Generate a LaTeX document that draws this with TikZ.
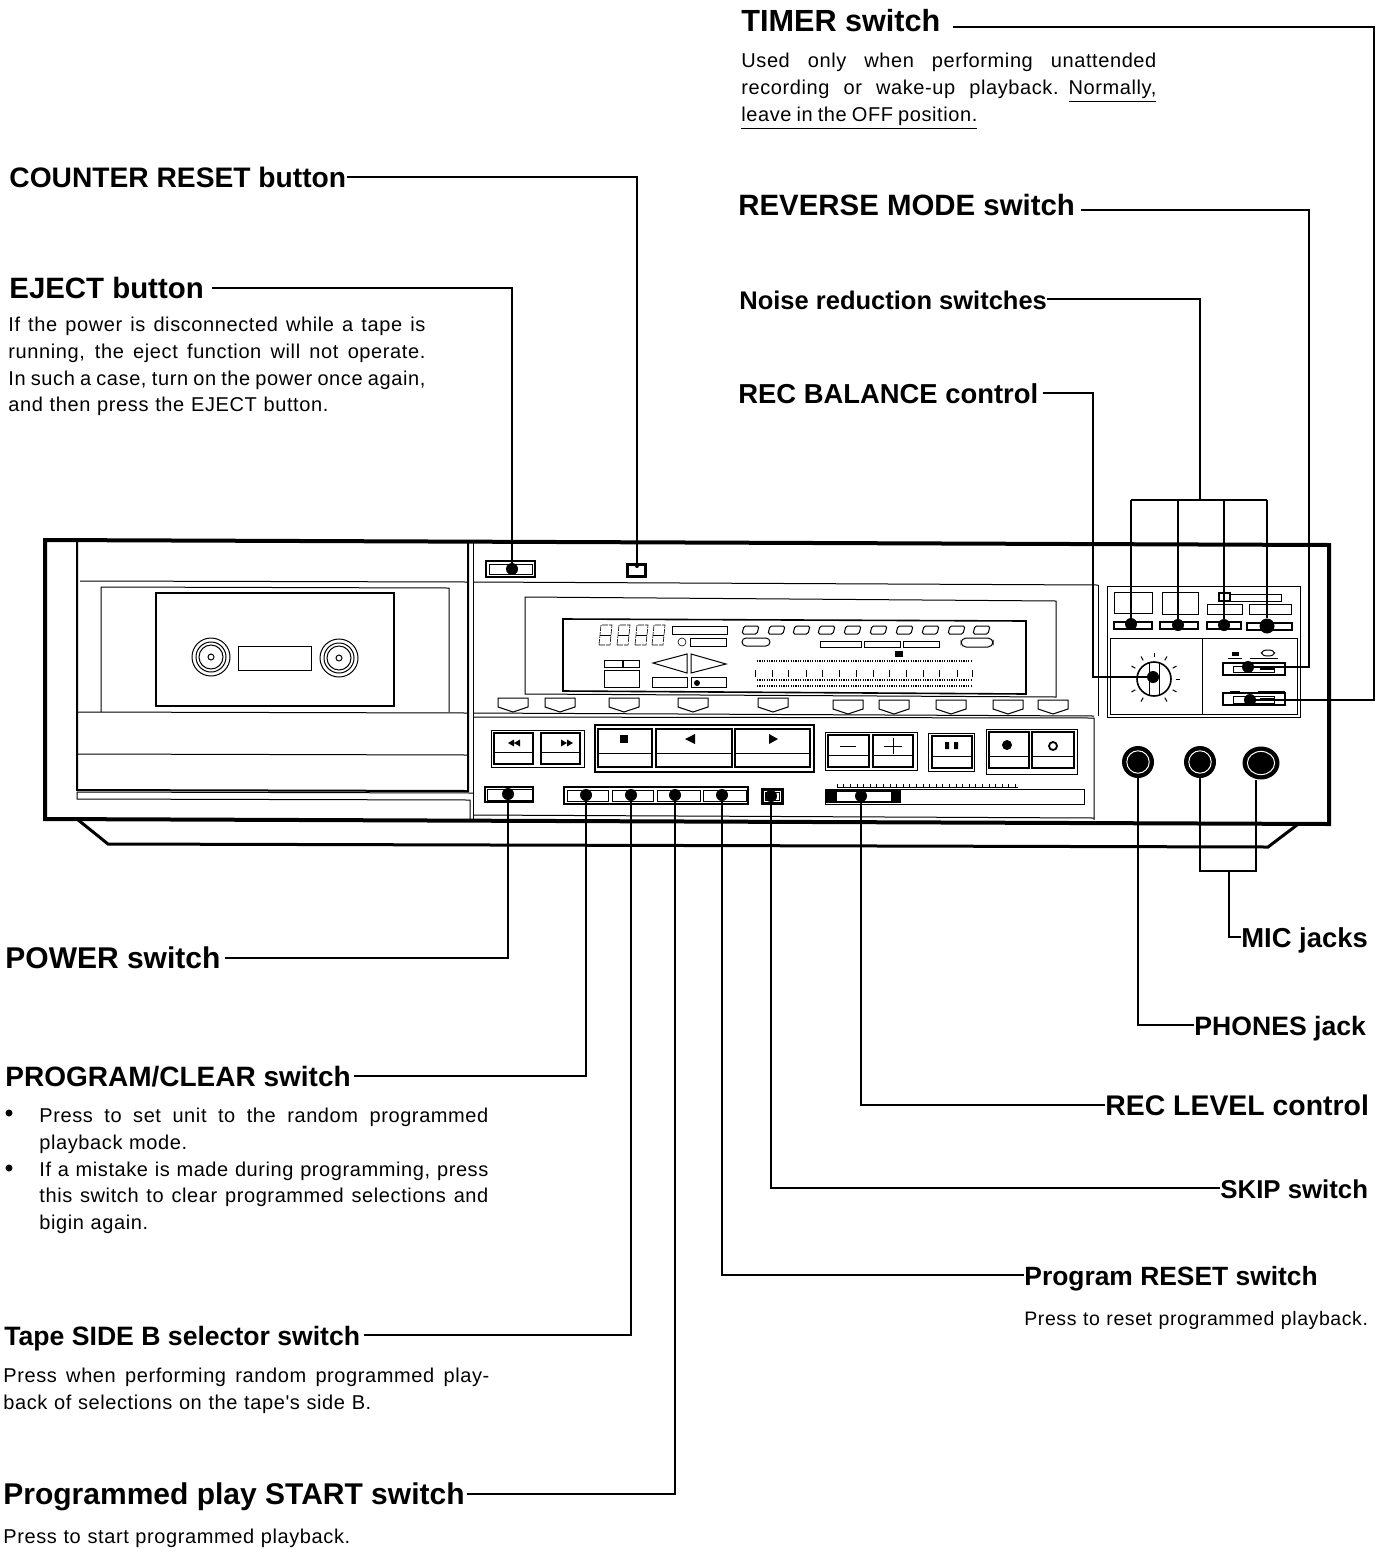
\documentclass[tikz,border=0pt]{standalone}
\usepackage{fontspec}
\setmainfont{Liberation Sans}
\newfontfamily\bodyfont[LetterSpace=3]{Liberation Sans}
\usetikzlibrary{shapes.geometric,calc}
\newcommand{\fillline}[2]{\hbox to #1pt{\spaceskip=\fontdimen2\font plus 1fil minus 1fil\relax #2}}

\begin{document}
\begin{tikzpicture}[
	x=0.5pt, y=-0.5pt,
	frame/.style={line width=2pt},
	door/.style={line width=1pt},
	fine/.style={line width=0.5pt},
	hair/.style={line width=0.3pt},
	btn/.style={line width=0.8pt},
	lead/.style={line width=0.8pt},
	dot/.style={circle, fill=black, inner sep=0pt, minimum size=6pt},
	bullet/.style={circle, fill=black, inner sep=0pt, minimum size=3.5pt},
	jack/.style={circle, fill=black, inner sep=0pt, minimum size=16pt},
	head/.style={anchor=west, inner sep=0pt, text height=10pt, text depth=0pt, font=\fontsize{#1}{#1}\selectfont\bfseries},
	para/.style={anchor=north west, inner sep=0pt, text width=250pt, font=\fontsize{#1}{13.3}\selectfont\bodyfont},
	para/.default=10
]
\useasboundingbox (0,0) rectangle (1386,1553);

% --- Cabinet ---
\draw[frame] (45,540) -- (1329,545) -- (1329,824) -- (45,819) -- cycle;
\draw[line width=1.5pt] (77,819) -- (108,844) -- (1268,847) -- (1297,825);

% --- Cassette door ---
\draw[door] (77,540) -- (77,790) -- (468,791) -- (468,541);
\draw[fine] (80,581) -- (468,582);
\draw[fine] (78,712) -- (468,713);
\draw[fine] (78,754) -- (468,755);
\draw[fine] (101,712) -- (101,587) -- (449,588) -- (449,712);
\draw[btn] (156,593) rectangle (394,706);
\draw[fine] (238,646) rectangle (311,670);
\foreach \x/\y in {211/657,339/658} {
  \foreach \r in {9.5,7.5,6,1.5}
    \draw[fine] (\x,\y) circle (\r pt);
}
\draw[fine] (77,792) -- (77,799) -- (470,800) -- (470,820);
\draw[fine] (77,792) -- (473,793);

% --- Centre panel ---
\draw[fine] (473,540) -- (473,821);
\draw[fine] (473,582) -- (1098,585);
\draw[fine] (473,713) -- (1094,716);
\draw[fine] (473,717) -- (1094,718) -- (1094,820);
\draw[fine] (473,815) -- (1094,818);
\draw[fine] (1098,585) -- (1098,716);
\draw[fine] (525,694) -- (525,597) -- (1056,601) -- (1056,697) -- cycle;
\draw[btn] (563,691) -- (563,619) -- (1026,621) -- (1026,694) -- cycle;

% --- Display ---
\foreach \x in {599,617,635,652} {
  \draw[hair, dash pattern=on 3pt off .5pt] (\x,645) -- ++(2,-20) -- ++(11,0) -- ++(-2,20) -- cycle;
  \draw[hair] (\x+1,635) -- ++(11,0);
}
\foreach \x in {742,768,793,818,844,870,896,922,948,973}
  \draw[fine, rounded corners=.8pt] (\x,634) -- ++(2,-8) -- ++(15,0) -- ++(-2,8) -- cycle;
\draw[fine] (672,626) rectangle (727,634);
\draw[fine] (690,638) rectangle (726,646);
\draw[hair] (682,642) circle (2pt);
\draw[fine, rounded corners=2pt] (742,638) rectangle (770,646);
\draw[fine] (820,641) rectangle (861,647);
\draw[fine] (864,641) rectangle (900,647);
\draw[fine] (903,641) rectangle (939,647);
\draw[fine, rounded corners=2.5pt] (961,638) rectangle (993,647);
\fill (895,651) rectangle (903,657);
\foreach \y in {661,680,686}
  \draw[line width=.6pt, dash pattern=on .6pt off .6pt] (757,\y) -- (971,\y);
\foreach \x in {755,772,788,806,822,839,856,873,889,906,923,939,957,972}
  \draw[hair] (\x,670) -- (\x,677);
\draw[fine] (604,660) rectangle (622,667);
\draw[fine] (623,660) rectangle (639,667);
\draw[fine] (604,670) rectangle (639,687);
\draw[fine] (687,654) -- (687,673) -- (653,663) -- cycle;
\draw[fine] (691,654) -- (691,673) -- (726,664) -- cycle;
\draw[fine] (652,677) rectangle (687,687);
\draw[fine] (691,677) rectangle (726,687);
\fill (697,683) circle (1.5pt);

% --- Tabs below the display ---
\foreach \x/\y in {513/698,560/698,624/698,693/698,773/698,848/700,894/700,951/700,1008/700,1053/700}
  \draw[fine] (\x-15,\y) -- (\x-15,\y+9) -- (\x,\y+14) -- (\x+15,\y+9) -- (\x+15,\y) -- cycle;

% --- Transport keys ---
\draw[fine] (491,730) rectangle (584,767);
\draw[btn] (494,733) rectangle (533,764);
\draw[btn] (541,733) rectangle (580,764);
\draw[fine] (494,752) -- (533,752);
\draw[fine] (541,752) -- (580,752);
\fill (508,743) -- (514,739.5) -- (514,746.5) -- cycle (514,743) -- (520,739.5) -- (520,746.5) -- cycle;
\fill (567,743) -- (561,739.5) -- (561,746.5) -- cycle (573,743) -- (567,739.5) -- (567,746.5) -- cycle;
\draw[btn] (595,725) rectangle (814,772);
\draw[btn] (598,729) rectangle (652,767);
\draw[btn] (656,729) rectangle (732,767);
\draw[btn] (735,729) rectangle (810,767);
\draw[fine] (598,753) -- (652,753);
\draw[fine] (656,753) -- (732,753);
\draw[fine] (735,753) -- (810,753);
\fill (620,735) rectangle (628,743);
\fill (685,739) -- (695,734) -- (695,744) -- cycle;
\fill (778,739) -- (769,734) -- (769,744) -- cycle;
\draw[fine] (825,732) rectangle (917,770);
\draw[btn] (828,735) rectangle (869,767);
\draw[btn] (873,735) rectangle (913,767);
\draw[fine] (828,755) -- (869,755);
\draw[fine] (873,755) -- (913,755);
\draw[fine] (840,746) -- (856,746);
\draw[fine] (884,746) -- (902,746) (893,738) -- (893,754);
\draw[fine] (928,733) rectangle (974,771);
\draw[btn] (932,736) rectangle (972,768);
\draw[fine] (932,756) -- (972,756);
\fill (945,742) rectangle (949,749) (954,742) rectangle (958,749);
\draw[fine] (986,729) rectangle (1077,774);
\draw[btn] (989,732) rectangle (1029,768);
\draw[btn] (1032,732) rectangle (1074,768);
\draw[fine] (989,756) -- (1029,756);
\draw[fine] (1032,756) -- (1074,756);
\fill (1007,745) circle (2.5pt);
\draw[line width=.9pt] (1053,746) circle (2pt);

% --- Small switches ---
\draw[btn] (486,561) rectangle (535,577);
\draw[fine] (489,564) rectangle (532,574);
\draw[line width=1.5pt] (627.5,564.5) rectangle (645.5,576.5);
\draw[btn] (485,787) rectangle (533,802);
\draw[fine] (487,789) rectangle (532,800);
\draw[btn] (564,787) rectangle (748,804);
\foreach \x/\w in {567/608,612/653,657/700,703/746}
  \draw[fine] (\x,790) rectangle (\w,801);
\draw[line width=1.5pt] (762,789) rectangle (782,803);
\draw[fine] (765,792) rectangle (779,800);

% --- Level slider ---
\draw[fine] (825,789) rectangle (1084,804);
\fill (825,789) rectangle (901,803);
\fill[white] (837,792) rectangle (891,801);
\foreach \x in {837,843.6,...,1018}
  \draw[hair] (\x,784) -- (\x,788);
\draw[hair] (837,787.5) -- (1018,787.5);

% --- Noise reduction block ---
\draw[fine] (1107,586) rectangle (1300,717);
\draw[fine] (1114,592) rectangle (1152,613);
\draw[fine] (1162,592) rectangle (1198,614);
\draw[fine] (1207,604) rectangle (1242,614);
\draw[fine] (1249,604) rectangle (1291,614);
\draw[btn] (1219,593) rectangle (1230,601);
\draw[fine] (1230,594) rectangle (1281,601);
\draw[btn] (1114,622) rectangle (1152,629);
\draw[btn] (1160,622) rectangle (1198,629);
\draw[btn] (1207,622) rectangle (1241,629);
\draw[btn] (1247,623) rectangle (1292,630);
\draw[fine] (1110,638) rectangle (1297,714);
\draw[fine] (1202,638) -- (1202,714);

% --- Balance dial ---
\draw[btn] (1154,679) circle (8.5pt);
\draw[fine] (1149,662) -- (1149,696) (1159,662) -- (1159,696);
\foreach \a in {90,60,30,0,-30,-60,-120,-150,150,120}
  \draw[fine] (1154,679) ++(\a:10.8pt) -- ++(\a:2.2pt);

% --- Slide switches ---
\draw[btn] (1223,663) rectangle (1285,675);
\draw[fine] (1233,666) rectangle (1274,672);
\fill (1260,667) rectangle (1274,670);
\draw[btn] (1223,693) rectangle (1285,705);
\draw[fine] (1233,696) rectangle (1274,703);
\fill (1260,698) rectangle (1274,701);
\draw[fine] (1228,658) -- (1242,658) (1250,658) -- (1278,658);
\draw[fine] (1268,653) ellipse (3.3pt and 1.5pt);
\fill (1232,652) rectangle (1239,656);
\draw[fine] (1230,691) -- (1240,691) (1258,691) -- (1285,691);

% --- Jacks ---
\node[jack] (phonejack) at (1138,762) {};
\node[jack] (micjacka) at (1200,762) {};
\node[jack, shape=ellipse, minimum width=18.5pt, minimum height=16.5pt] (micjackb) at (1261,763) {};
\draw[white, line width=.5pt] (phonejack) circle (5.6pt);
\draw[white, line width=.5pt] (micjacka) circle (5.6pt);
\draw[white, line width=.5pt] (micjackb) ellipse (6.8pt and 5.8pt);

% --- Lead dots ---
\node[dot] (ejectdot) at (512,569) {};
\node[dot, minimum size=2pt] (counterdot) at (637,566) {};
\node[dot] (noisea) at (1131,624) {};
\node[dot] (noiseb) at (1178,625) {};
\node[dot] (noisec) at (1224,625) {};
\node[dot, minimum width=7.5pt] (noised) at (1267,626) {};
\node[dot] (reversedot) at (1248,667) {};
\node[dot] (timerdot) at (1250,700) {};
\node[dot] (balancedot) at (1153,677) {};
\node[dot] (powerdot) at (508,794) {};
\node[dot] (programdot) at (586,795) {};
\node[dot] (sidebdot) at (631,795) {};
\node[dot] (startdot) at (675,795) {};
\node[dot] (resetdot) at (722,795) {};
\node[dot] (skipdot) at (771,796) {};
\node[dot] (leveldot) at (861,796) {};

% --- Labels, upper left ---
\node[head=14.1] (counterlabel) at (9,177) {COUNTER RESET button};
\node[head=14.7] (ejectlabel) at (9,288) {EJECT button};
\node[para] (ejectnote) at (8,317) {%
  \fillline{208.5}{If the power is disconnected while a tape is}
  \fillline{208.5}{running, the eject function will not operate.}
  \fillline{208.5}{In such a case, turn on the power once again,}
  \fillline{160}{and then press the EJECT button.}};

% --- Labels, upper right ---
\node[head=15.3] (timerlabel) at (741,21) {TIMER switch};
\node[para] (timernote) at (741,53) {%
  \fillline{207.5}{Used only when performing unattended}
  \fillline{207.5}{recording or wake-up playback. \underline{Normally,}}
  \hbox{\underline{\fillline{118}{leave in the OFF position.}}}};
\node[head=14.7] (reverselabel) at (738,205) {REVERSE MODE switch};
\node[head=12.75] (noiselabel) at (739,299) {Noise reduction switches};
\node[head=13.7] (balancelabel) at (738,393) {REC BALANCE control};

% --- Labels, lower left ---
\node[head=15] (powerlabel) at (5,958) {POWER switch};
\node[head=14] (programlabel) at (5,1076) {PROGRAM/CLEAR switch};
\node[para] (programnote) at (39,1108) {%
  \fillline{224.5}{Press to set unit to the random programmed}
  \hbox{playback mode.}
  \fillline{224.5}{If a mistake is made during programming, press}
  \fillline{224.5}{this switch to clear programmed selections and}
  \hbox{bigin again.}};
\node[bullet] (bulleta) at (9,1113) {};
\node[bullet] (bulletb) at (9,1168) {};
\node[head=13.3] (sideblabel) at (4,1335) {Tape SIDE B selector switch};
\node[para] (sidebnote) at (3,1368) {%
  \fillline{243}{Press when performing random programmed play-}
  \hbox{back of selections on the tape's side B.}};
\node[head=15] (startlabel) at (3,1494) {Programmed play START switch};
\node[para] (startnote) at (3,1529) {\hbox{Press to start programmed playback.}};

% --- Labels, lower right ---
\node[head=13.7] (miclabel) at (1241,937) {MIC jacks};
\node[head=13.3] (phoneslabel) at (1194,1025) {PHONES jack};
\node[head=14.2] (levellabel) at (1105,1105) {REC LEVEL control};
\node[head=12.9] (skiplabel) at (1220,1188) {SKIP switch};
\node[head=13.2] (resetlabel) at (1024,1275) {Program RESET switch};
\node[para=9.75] (resetnote) at (1024,1311) {\hbox{Press to reset programmed playback.}};

% --- Leads ---
\draw[lead] (counterlabel.east) -| (counterdot);
\draw[lead] ([xshift=4pt]ejectlabel.east) -| (ejectdot);
\draw[lead] ([xshift=6pt,yshift=-3pt]timerlabel.east) -| (1374,27) |- (timerdot);
\draw[lead] ([xshift=3pt,yshift=-2.5pt]reverselabel.east) -| (1309,210) |- (reversedot);
\draw[lead] ([xshift=2pt]balancelabel.east) -| (1093,393) |- (balancedot);
\coordinate (noisebar) at (1200,500);
\draw[lead] (noiselabel.east) -| (noisebar);
\draw[lead] (noisea |- noisebar) -- (noised |- noisebar);
\foreach \n in {noisea,noiseb,noisec,noised}
  \draw[lead] (\n |- noisebar) -- (\n);
\draw[lead] ([xshift=2pt]powerlabel.east) -| (powerdot);
\draw[lead] ([xshift=1.5pt]programlabel.east) -| (programdot);
\draw[lead] ([xshift=1.5pt]sideblabel.east) -| (sidebdot);
\draw[lead] ([xshift=1pt]startlabel.east) -| (startdot);
\draw[lead] (resetlabel.west) -| (resetdot);
\draw[lead] (skiplabel.west) -| (skipdot);
\draw[lead] (levellabel.west) -| (leveldot);
\draw[lead] (phoneslabel.west) -| (phonejack);
\coordinate (micbar) at (1229,871);
\draw[lead] (miclabel.west) -| (micbar);
\draw[lead] (micjacka) |- (micbar);
\draw[lead] ([xshift=-2.5pt]micjackb.south) |- (micbar);

\end{tikzpicture}
\end{document}
